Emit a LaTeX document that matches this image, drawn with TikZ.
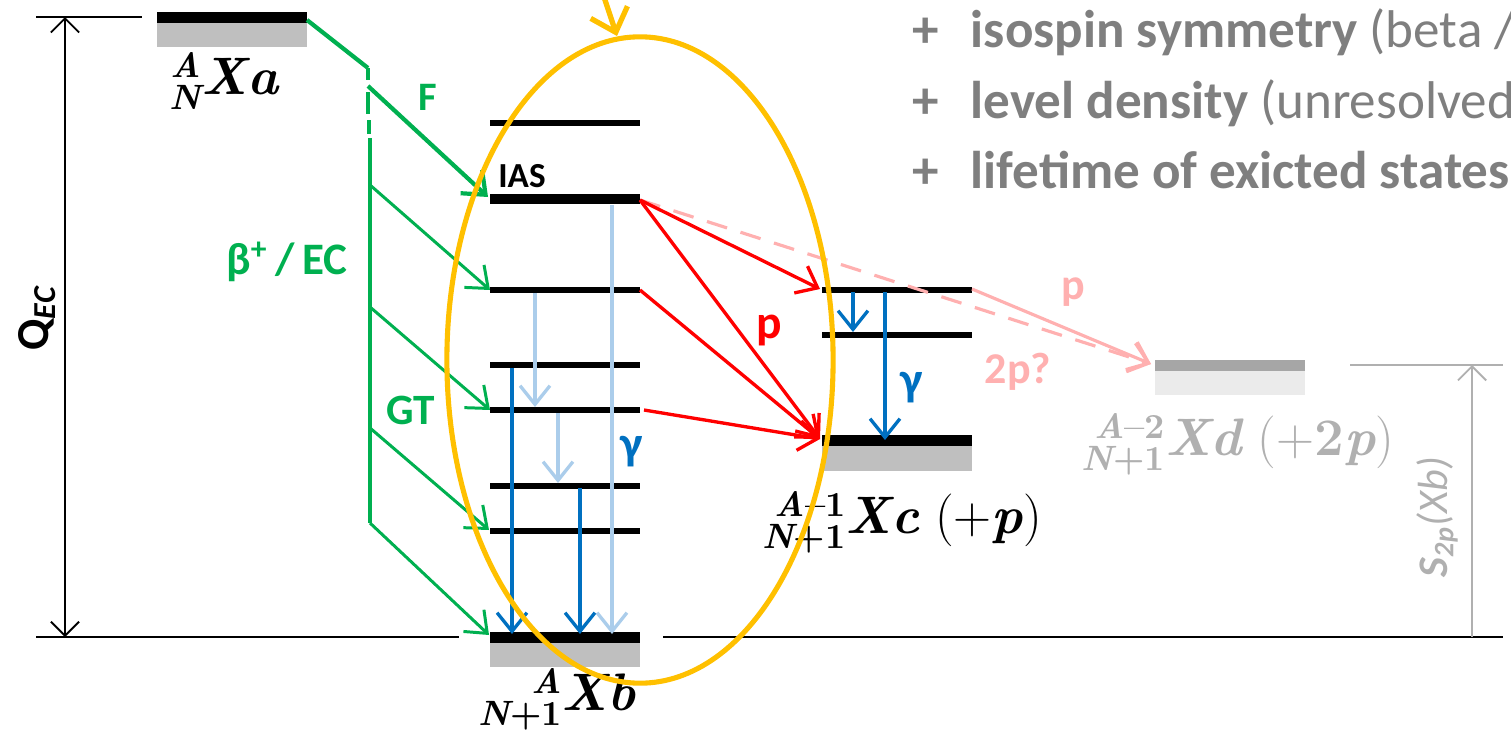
\documentclass[tikz,border=0pt]{standalone}
\usepackage{fontspec}
\setsansfont{Carlito}
\usetikzlibrary{arrows.meta,shapes.geometric}
\newcommand{\nuc}[3]{{\fontsize{10}{10}\selectfont\bfseries\itshape\begin{tabular}[c]{@{}r@{}}#1\\[-1pt]#2\end{tabular}}{\bfseries\itshape #3}}
\definecolor{cgreen}{HTML}{00B050}
\definecolor{cred}{HTML}{FF0000}
\definecolor{cpink}{HTML}{FFB0B0}
\definecolor{cblue}{HTML}{0070C0}
\definecolor{clblue}{HTML}{ABCDEB}
\definecolor{corange}{HTML}{FFC000}
\definecolor{cgrey}{HTML}{BFBFBF}
\definecolor{ctext}{HTML}{7F7F7F}
\definecolor{cdgrey}{HTML}{A6A6A6}
\definecolor{cvlgrey}{HTML}{EBEBEB}
\definecolor{cmgrey}{HTML}{B0B0B0}
\tikzset{
  level/.style={line width=1.45pt},
  ias/.style={line width=2.9pt},
  thinline/.style={line width=0.55pt},
  garrow/.style={-{Straight Barb[length=5.3pt,width=8.5pt]}},
  gthick/.style={cgreen,line width=1.2pt},
  gthin/.style={cgreen,line width=0.85pt,garrow},
  rarrow/.style={cred,line width=0.95pt,garrow},
  barrow/.style={cblue,line width=0.95pt,garrow},
  lbarrow/.style={clblue,line width=0.95pt,garrow},
  lab/.style={font=\sffamily\bfseries\fontsize{11.5}{13}\selectfont,inner sep=0pt},
  mlab/.style={font=\fontsize{15}{17}\selectfont,inner sep=0pt},
  toptext/.style={font=\sffamily\fontsize{15.1}{17}\selectfont,text=ctext,anchor=west,inner sep=0pt},
}
\begin{document}
\begin{tikzpicture}[x=0.01cm,y=-0.01cm]
\useasboundingbox (0,0) rectangle (1511,742);
\clip (0,0) rectangle (1511,742);
% reference lines
\draw[thinline] (36,17) -- (142,17);
\draw[thinline] (36,637) -- (459,637);
\draw[thinline] (663,637) -- (1503,637);
\coordinate (qtop) at (65,17);
\coordinate (qbot) at (65,637);
\draw[thinline,{Straight Barb[length=4pt,width=8pt]}-{Straight Barb[length=4pt,width=8pt]}] (qtop) -- (qbot);
\node[lab,rotate=90,font=\sffamily\bfseries\fontsize{13}{15}\selectfont] (qec) at (37,318) {Q\textsubscript{\itshape EC}};
% S2p
\draw[cmgrey,thinline] (1350,365) -- (1503,365);
\coordinate (stop) at (1472,365);
\coordinate (sbot) at (1472,637);
\draw[cmgrey,thinline,-{Straight Barb[length=4pt,width=8pt]}] (sbot) -- (stop);
\node[rotate=90,text=cmgrey,inner sep=0pt,font=\sffamily\fontsize{12}{14}\selectfont] (s2p) at (1437,517) {\textbf{\textit{S}}\textsubscript{\bfseries\itshape 2p}\textit{(Xb)}};
% level Xa
\fill[cgrey] (157,23) rectangle (307,47);
\fill[black] (157,12) rectangle (307,23);
\node[mlab] (la) at (224,86) {\nuc{A}{N}{Xa}};
% levels Xb
\fill[cgrey] (490,643) rectangle (640,667);
\fill[black] (490,632) rectangle (640,643);
\foreach \yy in {123,290,365,410,486,531} \draw[level] (490,\yy) -- (640,\yy);
\draw[ias] (490,199) -- (640,199);
\node[lab,font=\sffamily\bfseries\fontsize{10}{12}\selectfont] (iasl) at (522,176) {IAS};
\node[mlab] (lb) at (557,702) {\nuc{A}{N{\upshape +1}}{Xb}};
% levels Xc
\fill[cgrey] (822,446) rectangle (972,471);
\fill[black] (822,435) rectangle (972,446);
\draw[level] (822,290) -- (972,290);
\draw[level] (822,335) -- (972,335);
\node[mlab] (lc) at (902,525) {\nuc{A{\upshape\textendash1}}{N{\upshape +1}}{Xc}\ (+{\bfseries\itshape p})};
% level Xd
\fill[cvlgrey] (1155,371) rectangle (1305,395);
\fill[cdgrey] (1155,360) rectangle (1305,371);
\node[mlab,text=cmgrey] (ld) at (1238,447) {\nuc{A{\upshape\textendash2}}{N{\upshape +1}}{Xd}\ (+{\bfseries 2\itshape p})};
% coordinates
\coordinate (a1) at (307,20);
\coordinate (a2) at (368,68);
\coordinate (fstart) at (368,86);
\coordinate (iasp) at (488,197);
\coordinate (g1s) at (370,185);  \coordinate (g1e) at (490,290);
\coordinate (g2s) at (370,307);  \coordinate (g2e) at (490,410);
\coordinate (g3s) at (370,428);  \coordinate (g3e) at (489,530);
\coordinate (g4s) at (370,523);  \coordinate (g4e) at (489,635);
% green
\draw[gthick] (a1) -- (a2);
\draw[gthick] (368,68) -- (368,80);
\draw[gthick] (368,92) -- (368,114);
\draw[gthick] (369,120) -- (369,134);
\draw[gthick] (370,138) -- (g4s);
\draw[gthick,-{Straight Barb[length=5.5pt,width=9pt]}] (fstart) -- (iasp);
\draw[gthin] (g1s) -- (g1e);
\draw[gthin] (g2s) -- (g2e);
\draw[gthin] (g3s) -- (g3e);
\draw[gthin] (g4s) -- (g4e);
\node[lab,text=cgreen] (fl) at (428,97) {F};
\node[lab,text=cgreen,font=\sffamily\bfseries\fontsize{12.8}{14}\selectfont] (bl) at (287,262) {β\textsuperscript{+}\,/\,EC};
\node[lab,text=cgreen,font=\sffamily\bfseries\fontsize{12.3}{14}\selectfont] (gtl) at (411,410) {GT};
% gammas in Xb
\draw[lbarrow] (612,205) -- (612,634);
\draw[lbarrow] (535,293) -- (535,407);
\draw[lbarrow] (558,413) -- (558,483);
\draw[barrow] (512,368) -- (512,634);
\draw[barrow] (580,488) -- (580,634);
\node[lab,text=cblue,font=\sffamily\bfseries\fontsize{13.5}{15}\selectfont] (gl1) at (632,452) {γ};
% gammas in Xc
\draw[barrow] (853,292) -- (853,332);
\draw[barrow] (885,292) -- (885,440);
\node[lab,text=cblue,font=\sffamily\bfseries\fontsize{13.5}{15}\selectfont] (gl2) at (912,388) {γ};
% protons
\coordinate (iasr) at (640,200);
\coordinate (l290r) at (640,290);
\coordinate (l410r) at (644,410);
\coordinate (c1) at (820,289);
\coordinate (cg) at (820,439);
\coordinate (dd) at (1151,364);
\coordinate (c1r) at (972,289);
\draw[cpink,line width=0.9pt,dash pattern=on 6pt off 4pt,garrow] (iasr) -- (dd);
\draw[cpink,line width=0.9pt,garrow] (c1r) -- (dd);
\draw[rarrow] (iasr) -- (c1);
\draw[rarrow] (iasr) -- (cg);
\draw[rarrow] (l290r) -- (cg);
\draw[rarrow] (l410r) -- (cg);
\node[lab,text=cred,font=\sffamily\bfseries\fontsize{13.5}{15}\selectfont] (pl) at (769,330) {p};
\node[lab,text=cpink,font=\sffamily\bfseries\fontsize{12.5}{14}\selectfont] (pl2) at (1073,292) {p};
\node[lab,text=cpink,font=\sffamily\bfseries\fontsize{12.5}{14}\selectfont] (pl3) at (1018,372) {2p?};
% ellipse
\node[draw=corange,line width=1.45pt,ellipse,minimum width=3.86cm,minimum height=6.46cm,inner sep=0pt] (ell) at (640,360) {};
\coordinate (oa) at (601,-12);
\coordinate (otip) at (617,36);
\draw[corange,line width=1.5pt,line cap=round,-{Straight Barb[length=6pt,width=11pt]}] (oa) -- (otip);
% top text
\node[toptext] (t1) at (912,32) {\textbf{+}\hspace{9pt}\textbf{isospin symmetry} (beta /};
\node[toptext] (t2) at (912,103) {\textbf{+}\hspace{9pt}\textbf{level density} (unresolved};
\node[toptext] (t3) at (912,170) {\textbf{+}\hspace{9pt}\textbf{lifetime of exicted states}};
\end{tikzpicture}
\end{document}
